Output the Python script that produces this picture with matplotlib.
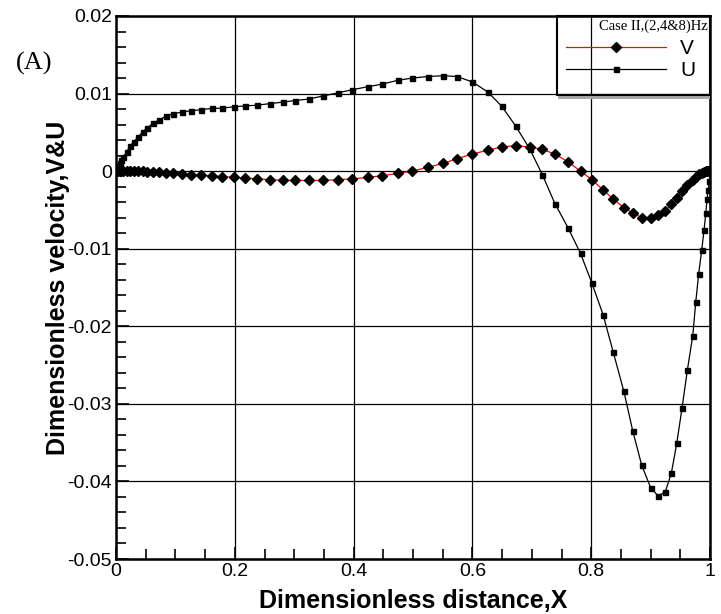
import numpy as np
import matplotlib
matplotlib.use("Agg")
from matplotlib import pyplot as plt
from matplotlib.ticker import MultipleLocator, FuncFormatter
from matplotlib.patches import Rectangle

plt.rcParams['axes.unicode_minus'] = False
sans = ['Liberation Sans Narrow', 'Liberation Sans', 'DejaVu Sans']
serif = ['Liberation Serif', 'DejaVu Serif']

# dimensionless distance (shared grid for both series)
x = [0, 0.003, 0.006, 0.009, 0.0123, 0.018, 0.0236, 0.030, 0.0376, 0.045,
     0.053, 0.063, 0.073, 0.084, 0.096, 0.111, 0.127, 0.143, 0.161, 0.178,
     0.198, 0.217, 0.237, 0.259, 0.281, 0.301, 0.325, 0.349, 0.374, 0.398,
     0.425, 0.447, 0.474, 0.499, 0.525, 0.551, 0.574, 0.600, 0.626, 0.649,
     0.673, 0.697, 0.718, 0.739, 0.761, 0.782, 0.801, 0.820, 0.837, 0.855,
     0.870, 0.885, 0.900, 0.913, 0.925, 0.935, 0.944, 0.953, 0.962, 0.971,
     0.976, 0.981, 0.986, 0.990, 0.993, 0.995, 0.997, 0.999, 1.0]

v = [0, 0, 0, 0, 0, 0, 0, 0, 0, 0,
     -0.0001, -0.0001, -0.0001, -0.0002, -0.0003, -0.0004, -0.0005, -0.0005, -0.0006, -0.0007,
     -0.0008, -0.0009, -0.0010, -0.0011, -0.0012, -0.0012, -0.0012, -0.0012, -0.0011, -0.0010,
     -0.0008, -0.0006, -0.0003, 0.0000, 0.0005, 0.0010, 0.0016, 0.0022, 0.0027, 0.0031,
     0.0033, 0.0031, 0.0028, 0.0022, 0.0012, 0.0000, -0.0011, -0.0024, -0.0036, -0.0047,
     -0.0054, -0.0060, -0.0060, -0.0057, -0.0051, -0.0043, -0.0035, -0.0026, -0.0018, -0.0011,
     -0.0007, -0.0004, -0.0002, -0.0001, 0, 0, 0, 0, 0]

u = [0, 0.0006, 0.0010, 0.0014, 0.0018, 0.0025, 0.0032, 0.0038, 0.0044, 0.0051,
     0.0056, 0.0062, 0.0066, 0.0071, 0.0074, 0.0076, 0.0078, 0.0079, 0.0081, 0.0081,
     0.0083, 0.0084, 0.0085, 0.0087, 0.0089, 0.0091, 0.0093, 0.0097, 0.0101, 0.0105,
     0.0109, 0.0112, 0.0117, 0.0120, 0.0122, 0.0123, 0.0122, 0.0115, 0.0102, 0.0084,
     0.0058, 0.0028, -0.0005, -0.0042, -0.0073, -0.0106, -0.0144, -0.0185, -0.0233, -0.0284,
     -0.0335, -0.0379, -0.0408, -0.0419, -0.0413, -0.0389, -0.0351, -0.0305, -0.0256, -0.0212,
     -0.0169, -0.0132, -0.0102, -0.0076, -0.0054, -0.0036, -0.0024, -0.0013, 0]

fig = plt.figure(figsize=(7.21, 6.14), dpi=100)
ax = fig.add_axes([116/721, 1-559/614, 594/721, 543/614])

ax.plot(x, v, color='red', lw=0.9, marker='D', ms=4.8, mfc='black', mec='black', label='V', zorder=3)
ax.plot(x, u, color='black', lw=0.9, marker='s', ms=3.6, label='U', zorder=3)

ax.set_xlim(0, 1)
ax.set_ylim(-0.05, 0.02)
ax.xaxis.set_major_locator(MultipleLocator(0.2))
ax.xaxis.set_minor_locator(MultipleLocator(0.05))
ax.yaxis.set_major_locator(MultipleLocator(0.01))
ax.yaxis.set_minor_locator(MultipleLocator(0.002))
fmt = FuncFormatter(lambda val, pos: '%g' % (round(val, 4) + 0.0))
ax.xaxis.set_major_formatter(fmt)
ax.yaxis.set_major_formatter(fmt)
ax.grid(True, which='major', color='black', lw=0.9)
ax.tick_params(which='major', direction='in', length=9, width=1.2, labelsize=14, pad=3)
ax.tick_params(which='minor', direction='in', length=7, width=1.2)
for lab in ax.get_xticklabels() + ax.get_yticklabels():
    lab.set_family(sans)
for s in ax.spines.values():
    s.set_linewidth(1.8)

ax.set_xlabel('Dimensionless distance,X', family=sans, fontsize=18, fontweight='bold', labelpad=6)
ax.set_ylabel('Dimensionless velocity,V&U', family=sans, fontsize=18, fontweight='bold')
ax.yaxis.set_label_coords(-0.078, 0.5)

# legend box with a grey shadow strip along its bottom edge
ax.add_patch(Rectangle((0.744, 0.848), 0.256, 0.007, transform=ax.transAxes,
                       facecolor='#a8a8a8', edgecolor='none', zorder=4, clip_on=False))
ax.add_patch(Rectangle((0.742, 0.855), 0.258, 0.145, transform=ax.transAxes,
                       facecolor='none', edgecolor='black', lw=1.5, zorder=5, clip_on=False))
ax.text(0.997, 0.982, 'Case II,(2,4&8)Hz', transform=ax.transAxes, ha='right', va='center',
        family=serif, fontsize=10.5, zorder=6)
leg = ax.legend(loc='upper left', bbox_to_anchor=(0.757, 0.958), frameon=False,
                prop={'family': sans, 'size': 15}, handlelength=4.8, handletextpad=0.7,
                labelspacing=0.15, borderaxespad=0, borderpad=0)
leg.set_zorder(6)

fig.text(34/721, 1-63/614, '(A)', family=serif, fontsize=19, ha='center', va='center')

fig.savefig('out.png', dpi=100)
